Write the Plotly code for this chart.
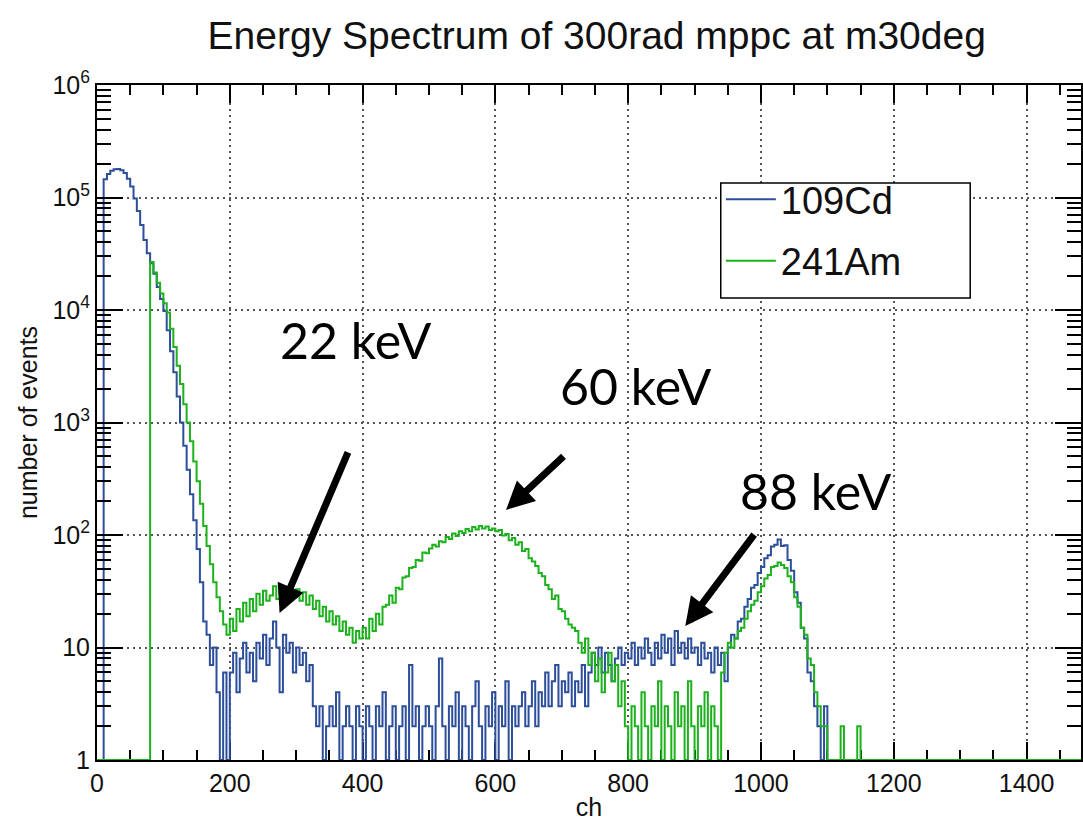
import math
import plotly.graph_objects as go

# Histogram binning: counts below are per 5-channel bin starting at ch 0
BIN_WIDTH = 5
X_MAX = 1482

# 109Cd spectrum (counts per bin)
cd_counts = [
    0, 0, 145000, 162000, 173000, 178000, 179000, 175000, 165000, 147000,
    125000, 98000, 76000, 57000, 42000, 32000, 26000, 21000, 16000, 12500,
    9800, 6600, 4300, 2800, 1700, 1000, 620, 380, 230, 135,
    75, 38, 17, 13, 7, 10, 4, 1, 6, 1,
    6, 9, 4, 8, 11, 6, 9, 5, 11, 8, 13, 7, 12, 17, 10, 4, 13, 9, 11, 6,
    10, 7, 9, 5, 7, 3, 2, 3, 1, 2, 3, 2, 4, 1, 2, 3, 2, 1, 3, 2,
    1, 3, 2, 1, 3, 2, 4, 1, 2, 3, 1, 2, 3, 1, 7, 2, 3, 1, 2, 3,
    2, 1, 3, 8, 2, 1, 3, 2, 4, 1, 3, 2, 1, 3, 5, 2, 1, 3, 2, 4,
    1, 3, 2, 5, 1, 3, 2, 3, 4, 2, 3, 5, 2, 4, 3, 6, 3, 5, 7, 3,
    5, 4, 6, 3, 5, 4, 7, 3, 6, 9, 7, 10, 6, 9, 7, 5, 8, 10, 7, 9,
    8, 11, 7, 10, 8, 12, 9, 7, 11, 8, 13, 9, 12, 7, 14, 9, 11, 8, 12, 9,
    10, 7, 11, 8, 9, 6, 10, 7, 9, 5, 10, 13, 12, 17, 18, 23, 27, 34, 36, 46,
    52, 62, 66, 79, 82, 91, 80, 81, 60, 48, 31, 25, 15, 12, 6, 5, 3, 2, 1, 3,
    0, 0, 0, 0, 0, 0, 0, 0, 0, 0, 0, 0,
]

# 241Am spectrum (counts per bin)
am_counts = [
    0, 0, 0, 0, 0, 0, 0, 0, 0, 0, 0, 0, 0, 0, 0, 0, 26700, 21500, 17500, 14000,
    11500, 9500, 6800, 4700, 3200, 2200, 1450, 1000, 680, 450,
    300, 190, 120, 80, 55, 38, 28, 21, 16, 13,
    18, 14, 22, 17, 25, 19, 27, 21, 30, 24, 32, 26, 29, 35, 27, 33, 25, 31, 36, 28,
    33, 26, 31, 24, 29, 22, 26, 19, 23, 17, 21, 16, 19, 14, 17, 13, 15, 11, 14, 12,
    15, 12, 18, 14, 20, 16, 23, 24, 29, 25, 34, 33, 42, 43, 51, 52, 60, 59, 70, 69,
    76, 82, 79, 88, 86, 96, 92, 103, 98, 108, 104, 113, 108, 118, 112, 120, 114, 119, 111, 114,
    108, 111, 99, 102, 90, 94, 82, 86, 72, 75, 62, 58, 53, 46, 43, 36, 33, 27, 29, 22,
    21, 18, 16, 15, 14, 11, 9, 12, 7, 9, 5, 8, 4, 6, 9, 5, 7, 3, 5, 2,
    1, 3, 2, 1, 4, 2, 1, 3, 2, 5, 1, 3, 2, 1, 4, 2, 3, 1, 5, 2,
    1, 3, 2, 4, 1, 3, 2, 1, 6, 9, 11, 10, 12, 14, 15, 18, 21, 24, 26, 31,
    35, 41, 44, 52, 53, 57, 54, 51, 43, 38, 28, 23, 15, 13, 8, 7, 4, 3, 2, 2,
    0, 0, 0, 0, 2, 0, 0, 0, 0, 2, 0, 0,
]

series_names = ["109Cd", "241Am"]
series_colors = ["#2c4e9b", "#1db21d"]

title_text = "Energy Spectrum of 300rad mppc at m30deg"
x_title = "ch"
y_title = "number of events"
x_tick_vals = [0, 200, 400, 600, 800, 1000, 1200, 1400]
y_tick_vals = [1, 10, 100, 1000, 10000, 100000, 1000000]
y_tick_text = ["1", "10", "10<sup>2</sup>", "10<sup>3</sup>",
               "10<sup>4</sup>", "10<sup>5</sup>", "10<sup>6</sup>"]

# peak labels: text, channel and count the arrow points at
peak_labels = ["22 keV", "60 keV", "88 keV"]
peak_tip_ch = [275, 616, 886]
peak_tip_count = [20.3, 167, 15.5]


def step_xy(counts):
    """Histogram outline: bins with no entries sit on the axis floor."""
    xs = [i * BIN_WIDTH for i in range(len(counts))] + [X_MAX + 20]
    ys = [max(c, 1) for c in counts] + [1]
    return xs, ys


fig = go.Figure()
for name, counts, color in zip(series_names, [cd_counts, am_counts], series_colors):
    xs, ys = step_xy(counts)
    fig.add_trace(go.Scatter(
        x=xs, y=ys, name=name, mode="lines",
        line=dict(color=color, width=2, shape="hv"),
        legendgroup=name,
    ))

FONT = "Liberation Sans, Arial, Helvetica, sans-serif"
grid_dash = "2px,4px"

fig.update_layout(
    width=1083, height=821,
    margin=dict(l=97, r=0, t=85, b=61),
    paper_bgcolor="white", plot_bgcolor="white",
    font=dict(family=FONT, color="#111111", size=25),
    title=dict(text=title_text, x=0.551, xref="container", xanchor="center",
               y=1 - 35 / 821, yref="container", yanchor="middle",
               font=dict(size=39, family=FONT, color="#111111")),
    showlegend=True,
    legend=dict(x=0.634, y=0.877, xanchor="left", yanchor="top",
                bgcolor="rgba(0,0,0,0)", borderwidth=0,
                font=dict(size=38, family=FONT, color="#111111"),
                itemwidth=50, tracegroupgap=9, traceorder="grouped"),
)

fig.update_xaxes(
    range=[0, X_MAX], showline=True, linecolor="black", linewidth=2, mirror="allticks",
    ticks="inside", ticklen=18, tickwidth=1.5, tickcolor="black",
    tickvals=x_tick_vals, showgrid=True, gridcolor="#555555", gridwidth=1.5, griddash=grid_dash,
    minor=dict(dtick=50, ticks="inside", ticklen=10, tickwidth=1.5, tickcolor="black", showgrid=False),
    zeroline=False, title=dict(text=x_title, standoff=2, font=dict(size=25)),
    tickfont=dict(size=25), layer="below traces",
)

minor_y = [k * 10 ** d for d in range(6) for k in range(2, 10)]
fig.update_yaxes(
    type="log", range=[0, 6], showline=True, linecolor="black", linewidth=2, mirror="allticks",
    ticks="inside", ticklen=26, tickwidth=1.5, tickcolor="black",
    tickvals=y_tick_vals, ticktext=y_tick_text,
    showgrid=True, gridcolor="#555555", gridwidth=1.5, griddash=grid_dash,
    minor=dict(tickvals=minor_y, ticks="inside", ticklen=14, tickwidth=1.5, tickcolor="black", showgrid=False),
    zeroline=False, title=dict(text=y_title, standoff=8, font=dict(size=25)),
    tickfont=dict(size=25),
)

# legend frame
fig.add_shape(type="rect", xref="paper", yref="paper",
              x0=0.6339, x1=0.8874, y0=0.6844, y1=0.8548,
              line=dict(color="black", width=1.5), fillcolor="white", layer="above")

# peak arrows and labels
label_pos = [(0.2627, 0.6222), (0.5477, 0.5541), (0.7302, 0.3985)]
arrow_tail = [(69, -162), (59, -55), (70, -93)]
for text, tip_ch, tip_count, (ax, ay), (lx, ly) in zip(
        peak_labels, peak_tip_ch, peak_tip_count, arrow_tail, label_pos):
    fig.add_annotation(x=tip_ch, y=math.log10(tip_count), xref="x", yref="y",
                       text="", showarrow=True, ax=ax, ay=ay,
                       arrowhead=2, arrowsize=0.8, arrowwidth=7, arrowcolor="black", standoff=0)
    fig.add_annotation(x=lx, y=ly, xref="paper", yref="paper", text=text, showarrow=False,
                       xanchor="center", yanchor="middle",
                       font=dict(family="Lato, Carlito, sans-serif", size=50, color="black"))

fig.write_html("out.html")
